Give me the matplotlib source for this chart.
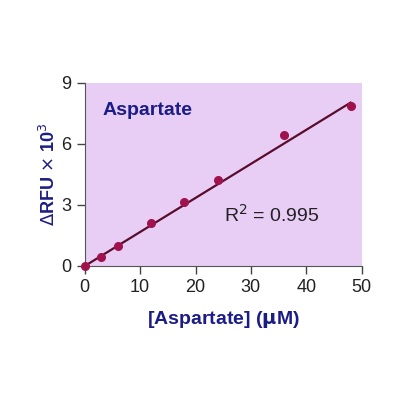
import numpy as np
import matplotlib
matplotlib.use("Agg")
import matplotlib.pyplot as plt

plt.rcParams['font.family'] = ['Liberation Sans', 'DejaVu Sans']

conc = [0, 3, 6, 12, 18, 24, 36, 48]                  # uM
rfu = [0.0, 0.45, 1.0, 2.13, 3.16, 4.23, 6.44, 7.88]  # x 10^3
fit_slope = 0.1672      # regression line as drawn in the source
fit_intercept = 0.0
xticks = [0, 10, 20, 30, 40, 50]
yticks = [0, 3, 6, 9]

NAVY = "#1c1c86"
PURPLE = "#e8cdf5"
DOT = "#a0124e"
LINE = "#5a0c2c"

fig = plt.figure(figsize=(4, 4), dpi=100)
ax = fig.add_axes([0.212, 0.335, 0.692, 0.458])
ax.set_facecolor(PURPLE)

xf = np.array([conc[0], conc[-1]])
ax.plot(xf, fit_slope * xf + fit_intercept, color=LINE, lw=1.6, zorder=2)
ax.plot(conc, rfu, "o", color=DOT, ms=5.5, zorder=3, clip_on=False)

ax.set_xlim(0, 50)
ax.set_ylim(0, 9)
ax.set_xticks(xticks)
ax.set_yticks(yticks)
ax.tick_params(labelsize=13, colors="#444444", labelcolor="#222222", length=6, width=1)
for s in ("top", "right"):
    ax.spines[s].set_visible(False)
for s in ("left", "bottom"):
    ax.spines[s].set_color("#555555")

ax.set_xlabel(r"[Aspartate] ($\mathbf{\mu}$M)", fontsize=14, fontweight="bold", color=NAVY, labelpad=9)
ax.set_ylabel(r"$\Delta$RFU $\times$ 10$^3$", fontsize=13, fontweight="bold", color=NAVY, labelpad=2)
ax.text(3.2, 7.4, "Aspartate", fontsize=14, fontweight="bold", color=NAVY)
ax.text(25.1, 2.15, r"R$^2$ = 0.995", fontsize=14, color="#222222")

fig.savefig("out.png", dpi=100)
